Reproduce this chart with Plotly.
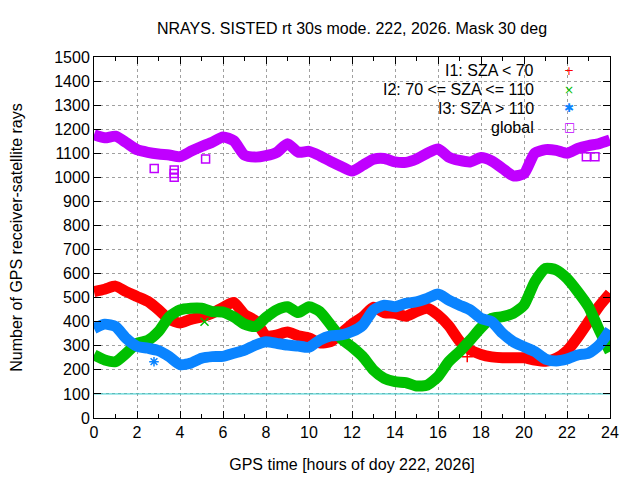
import plotly.graph_objects as go

hours = [i * 0.5 for i in range(49)]

i1_sza_lt70 = [525, 535, 548, 525, 505, 485, 450, 410, 395, 410, 420, 435, 460, 480, 430, 405,
               342, 345, 357, 342, 333, 312, 317, 352, 390, 420, 460, 438, 435, 423, 442, 456,
               428, 383, 320, 283, 264, 254, 250, 250, 250, 241, 236, 248, 279, 335, 400, 465, 518]
i2_sza_mid = [262, 241, 234, 269, 310, 322, 359, 421, 449, 456, 456, 442, 440, 420, 390, 380,
              418, 449, 462, 438, 462, 442, 388, 330, 295, 255, 199, 165, 151, 147, 133, 137,
              172, 234, 276, 324, 375, 414, 421, 435, 469, 566, 622, 615, 580, 525, 462, 365, 275]
i3_sza_gt110 = [372, 390, 380, 331, 298, 290, 280, 255, 222, 228, 248, 255, 256, 269, 282, 303,
                317, 310, 303, 299, 294, 324, 341, 345, 359, 386, 449, 469, 462, 476, 483, 497,
                515, 490, 469, 449, 414, 400, 352, 317, 296, 276, 245, 237, 245, 262, 269, 303, 366]
global_rays = [1177, 1164, 1171, 1144, 1115, 1104, 1097, 1093, 1086, 1108, 1128, 1146, 1168, 1152,
               1092, 1084, 1090, 1104, 1140, 1104, 1108, 1090, 1066, 1045, 1026, 1050, 1075, 1078,
               1064, 1062, 1076, 1100, 1118, 1084, 1070, 1064, 1082, 1068, 1037, 1006, 1015, 1100,
               1115, 1112, 1100, 1120, 1132, 1140, 1155]

# isolated outlier samples
glob_out_h = [2.8, 3.73, 3.73, 3.73, 5.19, 22.9, 23.3]
glob_out_v = [1037, 1030, 1016, 1000, 1076, 1086, 1086]
i1_out_h = [17.36]
i1_out_v = [255]
i2_out_h = [5.14]
i2_out_v = [400]
i3_out_h = [2.79]
i3_out_v = [234]

ref_level = 100
x_ticks = list(range(0, 25, 2))
y_ticks = list(range(0, 1501, 100))

RED, GREEN, BLUE, PURPLE = "#ff0000", "#00c000", "#0a84ff", "#c000ff"
FONT = "Liberation Sans"
FS = 16

# page body adds an 8px offset; margins compensate so the plot lands where the reference has it
OFF = 8
L, R, T, B = 94 - OFF, 30 + OFF, 57 - OFF, 62 + OFF
PW, PH = 640 - L - R, 480 - T - B

def px_x(p):  # screen px -> paper fraction
    return (p - OFF - L) / PW

def px_y(p):
    return 1 - (p - OFF - T) / PH

fig = go.Figure()

series = [
    (global_rays, PURPLE, glob_out_h, glob_out_v, "square-open"),
    (i1_sza_lt70, RED, i1_out_h, i1_out_v, "cross-thin-open"),
    (i2_sza_mid, GREEN, i2_out_h, i2_out_v, "x-thin-open"),
    (i3_sza_gt110, BLUE, i3_out_h, i3_out_v, "asterisk-open"),
]
for vals, col, oh, ov, sym in series:
    fig.add_trace(go.Scatter(x=hours, y=vals, mode="lines", showlegend=False,
                             line=dict(color=col, width=11, shape="spline", smoothing=0.6)))
    fig.add_trace(go.Scatter(x=oh, y=ov, mode="markers", showlegend=False,
                             marker=dict(symbol=sym, size=8, color=col,
                                         line=dict(color=col, width=1.5))))

fig.add_trace(go.Scatter(x=[0, 24], y=[ref_level, ref_level], mode="lines", showlegend=False,
                         line=dict(color="#30cccc", width=1)))

# opaque key box
fig.add_shape(type="rect", xref="paper", yref="paper",
              x0=px_x(336), x1=px_x(606), y0=px_y(141), y1=0.998,
              fillcolor="white", line=dict(width=0), layer="between")

labels = ["I1: SZA < 70", "I2: 70 <= SZA <= 110", "I3: SZA > 110", "global"]
symbols = ["+", "×", "✱", "□"]
colors = [RED, GREEN, BLUE, PURPLE]
rows_px = [71, 89.5, 108, 127]
for lab, sym, col, ypx in zip(labels, symbols, colors, rows_px):
    fig.add_annotation(xref="paper", yref="paper", x=px_x(536), y=px_y(ypx), text=lab,
                       showarrow=False, xanchor="right", yanchor="middle",
                       font=dict(family=FONT, size=FS, color="#000000"))
    fig.add_annotation(xref="paper", yref="paper", x=px_x(569), y=px_y(ypx), text=sym,
                       showarrow=False, xanchor="center", yanchor="middle",
                       font=dict(family="DejaVu Sans", size=12, color=col))

axis_common = dict(showline=True, linecolor="black", linewidth=1, mirror="allticks",
                   ticks="inside", ticklen=7, tickcolor="black", showgrid=True,
                   gridcolor="#a0a0a0", griddash="3px,3px", gridwidth=1, zeroline=False,
                   automargin=False,
                   tickfont=dict(family=FONT, size=FS, color="#000000"))

fig.update_xaxes(range=[0, 24], tickvals=x_ticks,
                 title=dict(text="GPS time [hours of doy 222, 2026]",
                            font=dict(family=FONT, size=FS, color="#000000"), standoff=18),
                 minor=dict(dtick=1, ticklen=4, ticks="inside", tickcolor="black", showgrid=False),
                 **axis_common)
fig.update_yaxes(range=[0, 1500], tickvals=y_ticks,
                 title=dict(text="Number of GPS receiver-satellite rays",
                            font=dict(family=FONT, size=FS, color="#000000"), standoff=30),
                 **axis_common)

fig.update_layout(
    width=640, height=480,
    margin=dict(l=L, r=R, t=T, b=B, autoexpand=False),
    paper_bgcolor="white", plot_bgcolor="white",
    title=dict(text="NRAYS. SISTED rt 30s mode. 222, 2026. Mask 30 deg",
               x=(94 + 610) / 2 / 640 - OFF / 640,
               xanchor="center", y=1 - 20 / 480, yanchor="middle",
               font=dict(family=FONT, size=FS, color="#000000")),
    showlegend=False,
)

fig.write_html("out.html")
